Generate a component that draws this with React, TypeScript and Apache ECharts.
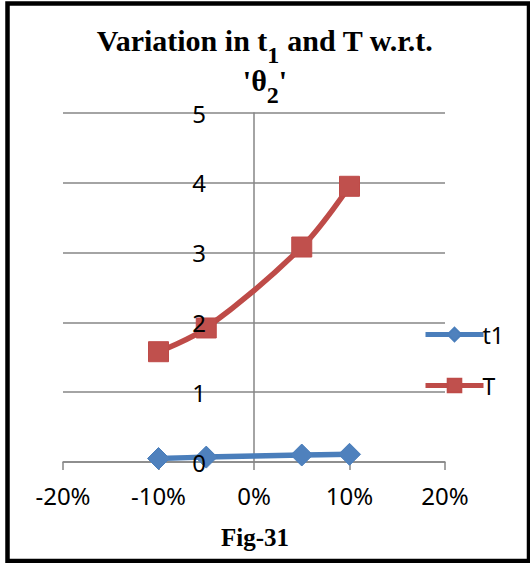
import React, { useEffect, useRef } from "react";
import * as echarts from "echarts";

const xValues = [-0.1, -0.05, 0.05, 0.1];
const t1Values = [0.05, 0.07, 0.1, 0.11];
const TValues = [1.58, 1.92, 3.08, 3.95];
const xTicks = { min: -0.2, max: 0.2, interval: 0.1 };
const yTicks = { min: 0, max: 5, interval: 1 };
const seriesNames = ["t1", "T"];
const titleLine1 = ["Variation in t", "1", " and T w.r.t."];
const titleLine2 = ["'θ", "2", "'"];
const caption = "Fig-31";

const SERIF = "'Liberation Serif', 'Times New Roman', serif";
const SANS = "'Noto Sans', 'Open Sans', sans-serif";

export default function App() {
  const ref = useRef<HTMLDivElement>(null);
  useEffect(() => {
    if (!ref.current) return;
    const chart = echarts.init(ref.current, undefined, { renderer: "svg" });
    const gridColor = "#868686";
    const gridLeft = 63;
    const gridWidth = 382;
    const yBase = {
      type: "value",
      min: yTicks.min,
      max: yTicks.max,
      interval: yTicks.interval,
      offset: -gridWidth / 2,
      position: "left",
    };
    chart.setOption({
      animation: false,
      backgroundColor: "#ffffff",
      title: {
        left: "center",
        top: 15,
        text:
          `{b|${titleLine1[0]}}{s|${titleLine1[1]}}{b|${titleLine1[2]}}\n` +
          `{b|${titleLine2[0]}}{s|${titleLine2[1]}}{b|${titleLine2[2]}}`,
        textStyle: {
          rich: {
            b: { fontFamily: SERIF, fontWeight: "bold", fontSize: 30, lineHeight: 40, color: "#000" },
            s: {
              fontFamily: SERIF,
              fontWeight: "bold",
              fontSize: 24,
              lineHeight: 2,
              verticalAlign: "bottom",
              padding: [0, 0, -7, 0],
              color: "#000",
            },
          },
        },
      },
      legend: {
        orient: "vertical",
        left: 418,
        top: 318,
        itemWidth: 58,
        itemHeight: 17,
        itemGap: 28,
        lineStyle: { width: 5 },
        textStyle: { fontFamily: SANS, fontSize: 23, color: "#000", padding: [0, 0, 0, -6] },
        data: seriesNames,
      },
      grid: { left: gridLeft, top: 113, width: gridWidth, height: 349 },
      xAxis: {
        type: "value",
        min: xTicks.min,
        max: xTicks.max,
        interval: xTicks.interval,
        axisLine: { show: true, onZero: false, lineStyle: { color: gridColor, width: 1.5 } },
        axisTick: { show: true, inside: false, length: 8, lineStyle: { color: gridColor, width: 1.5 } },
        splitLine: { show: false },
        axisLabel: {
          margin: 21,
          fontFamily: SANS,
          fontSize: 24,
          color: "#000",
          formatter: (v: number) => `${Math.round(v * 100)}%`,
        },
      },
      yAxis: [
        {
          ...yBase,
          axisLine: { show: true, onZero: false, lineStyle: { color: gridColor, width: 1.5 } },
          axisTick: { show: false },
          splitLine: { show: true, lineStyle: { color: gridColor, width: 1.5 } },
          axisLabel: { show: false },
        },
        {
          ...yBase,
          z: 10,
          axisLine: { show: false, onZero: false },
          axisTick: { show: false },
          splitLine: { show: false },
          axisLabel: { margin: 48, fontFamily: SANS, fontSize: 24, color: "#000" },
        },
      ],
      series: [
        {
          name: seriesNames[0],
          type: "line",
          yAxisIndex: 0,
          smooth: 0.35,
          data: xValues.map((x, i) => [x, t1Values[i]]),
          symbol: "diamond",
          symbolSize: [22, 22],
          lineStyle: { color: "#4A7EBB", width: 5.5 },
          itemStyle: { color: "#4F81BD", borderColor: "#4A7EBB", borderWidth: 1 },
          z: 3,
        },
        {
          name: seriesNames[1],
          type: "line",
          yAxisIndex: 0,
          smooth: 0.35,
          data: xValues.map((x, i) => [x, TValues[i]]),
          symbol: "rect",
          symbolSize: 20,
          lineStyle: { color: "#BE4B48", width: 5.5 },
          itemStyle: { color: "#C0504D", borderColor: "#BE4B48", borderWidth: 1 },
          z: 3,
        },
      ],
      graphic: [
        {
          type: "rect",
          shape: { x: 7.5, y: 3.5, width: 521.5, height: 557.5 },
          style: { fill: "none", stroke: "#000", lineWidth: 4.5 },
          silent: true,
        },
        {
          type: "text",
          x: 255,
          y: 537,
          style: {
            text: caption,
            fontFamily: SERIF,
            fontWeight: "bold",
            fontSize: 25,
            fill: "#000",
            textAlign: "center",
            textVerticalAlign: "middle",
          },
        },
      ],
    });
    return () => chart.dispose();
  }, []);
  return (
    <div
      ref={ref}
      style={{ position: "absolute", left: 0, top: 0, width: 530, height: 563 }}
    />
  );
}
